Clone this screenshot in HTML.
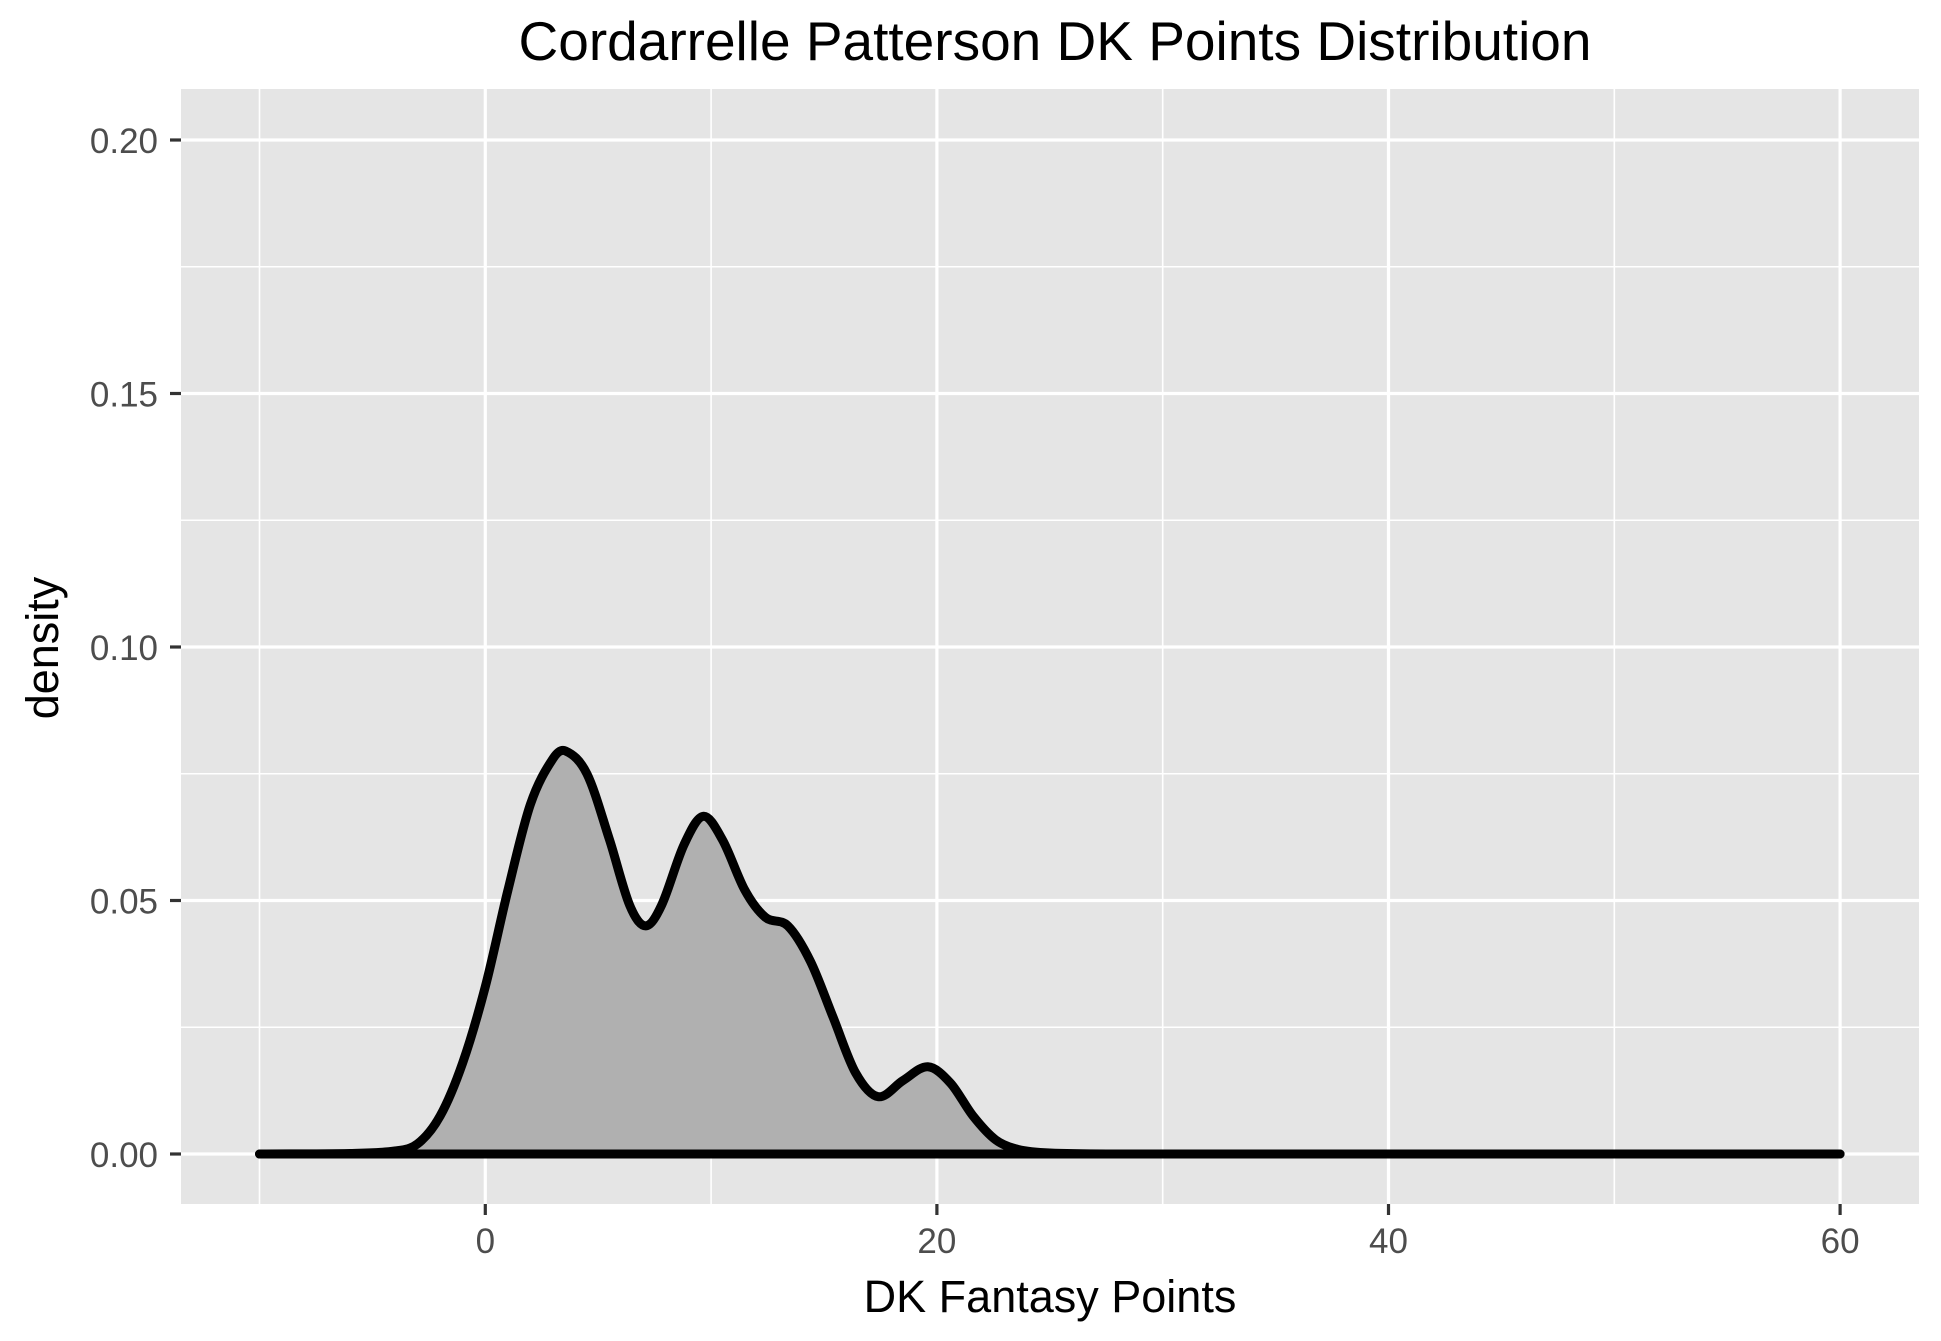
<!DOCTYPE html>
<html><head><meta charset="utf-8"><style>
html,body{margin:0;padding:0;background:#fff}
svg{display:block;font-family:"Liberation Sans",Arial,sans-serif}
</style></head><body>
<svg id="chart" width="1941" height="1341" viewBox="0 0 1941 1341" xmlns="http://www.w3.org/2000/svg">
<rect x="0" y="0" width="1941" height="1341" fill="#fff"/>
<rect x="181" y="89" width="1738" height="1115" fill="#e5e5e5"/>
<g id="grid"></g>
<g id="marks"></g>
<g id="axes"></g>
<text x="1055" y="60" font-size="55" text-anchor="middle" fill="#000">Cordarrelle Patterson DK Points Distribution</text>
<text x="1050" y="1312" font-size="45" text-anchor="middle" fill="#000">DK Fantasy Points</text>
<text transform="translate(58,648) rotate(-90)" font-size="45" text-anchor="middle" fill="#000">density</text>
</svg>
<script>
const xVals = [-10,-6,-4,-3,-2,-1,0,1,2,3,3.55,4.5,5.5,6.4,7.1,7.8,8.8,9.65,10.5,11.5,12.4,13.4,14.4,15.4,16.4,17.4,18.5,19.6,20.6,21.6,22.6,23.6,25,28,35,45,55,60];
const densVals = [0,0.0001,0.0006,0.002,0.0075,0.018,0.033,0.052,0.069,0.078,0.0795,0.075,0.062,0.049,0.045,0.049,0.061,0.0666,0.062,0.052,0.0467,0.045,0.038,0.027,0.016,0.0113,0.0145,0.0172,0.014,0.0075,0.0028,0.0009,0.0002,0,0,0,0,0];
const xMajor = [0,20,40,60];
const xMinor = [-10,10,30,50];
const yMajor = [0,0.05,0.1,0.15,0.2];
const yMinor = [0.025,0.075,0.125,0.175];
const yLabels = ["0.00","0.05","0.10","0.15","0.20"];

const NS="http://www.w3.org/2000/svg";
const X0=485.3, XS=22.58, Y0=1154, YS=5070;
const PL=181, PR=1919, PT=89, PB=1204;
function sx(v){return X0+v*XS;}
function sy(v){return Y0-v*YS;}
function mk(tag,attrs,parent){const e=document.createElementNS(NS,tag);for(const k in attrs)e.setAttribute(k,attrs[k]);parent.appendChild(e);return e;}
const grid=document.getElementById('grid'), marks=document.getElementById('marks'), axes=document.getElementById('axes');
yMinor.forEach(v=>{const l=mk('line',{x1:PL,x2:PR,y1:sy(v),y2:sy(v),stroke:'#fff','stroke-width':1.6},grid);

});
xMinor.forEach(v=>{const l=mk('line',{x1:sx(v),x2:sx(v),y1:PT,y2:PB,stroke:'#fff','stroke-width':1.6},grid);

});
yMajor.forEach((v,i)=>{const l=mk('line',{x1:PL,x2:PR,y1:sy(v),y2:sy(v),stroke:'#fff','stroke-width':3.2},grid);


const t=mk('line',{x1:170,x2:PL,y1:sy(v),y2:sy(v),stroke:'#333','stroke-width':3.2},axes);


const tx=mk('text',{x:158,y:sy(v)+13,'font-size':35,'text-anchor':'end',fill:'#4d4d4d'},axes);
tx.textContent=yLabels[i];

});
xMajor.forEach(v=>{const l=mk('line',{x1:sx(v),x2:sx(v),y1:PT,y2:PB,stroke:'#fff','stroke-width':3.2},grid);


const t=mk('line',{x1:sx(v),x2:sx(v),y1:PB,y2:PB+11,stroke:'#333','stroke-width':3.2},axes);


const tx=mk('text',{x:sx(v),y:1253,'font-size':35,'text-anchor':'middle',fill:'#4d4d4d'},axes);
tx.textContent=String(v);

});
const pts=xVals.map((x,i)=>[sx(x),sy(densVals[i])]);
function smooth(p){let d='M'+p[0][0]+','+p[0][1];
for(let i=0;i<p.length-1;i++){const p0=p[i-1]||p[i],p1=p[i],p2=p[i+1],p3=p[i+2]||p2;
const h=p2[0]-p1[0];
const m1=(p2[1]-p0[1])/(p2[0]-p0[0]||1), m2=(p3[1]-p1[1])/(p3[0]-p1[0]||1);
let c1x=p1[0]+h/3,c1y=p1[1]+m1*h/3,c2x=p2[0]-h/3,c2y=p2[1]-m2*h/3;
if(c1y>Y0)c1y=Y0; if(c2y>Y0)c2y=Y0;
d+=' C'+c1x+','+c1y+' '+c2x+','+c2y+' '+p2[0]+','+p2[1];}
return d;}
const dLine=smooth(pts);
const area=mk('path',{d:dLine+' L'+pts[pts.length-1][0]+','+Y0+' L'+pts[0][0]+','+Y0+' Z',fill:'#b0b0b0'},marks);


const base=mk('line',{x1:pts[0][0],x2:pts[pts.length-1][0],y1:Y0,y2:Y0,stroke:'#000','stroke-width':9,'stroke-linecap':'round'},marks);


const line=mk('path',{d:dLine,fill:'none',stroke:'#000','stroke-width':9,'stroke-linejoin':'round','stroke-linecap':'round'},marks);


</script>
</body></html>
